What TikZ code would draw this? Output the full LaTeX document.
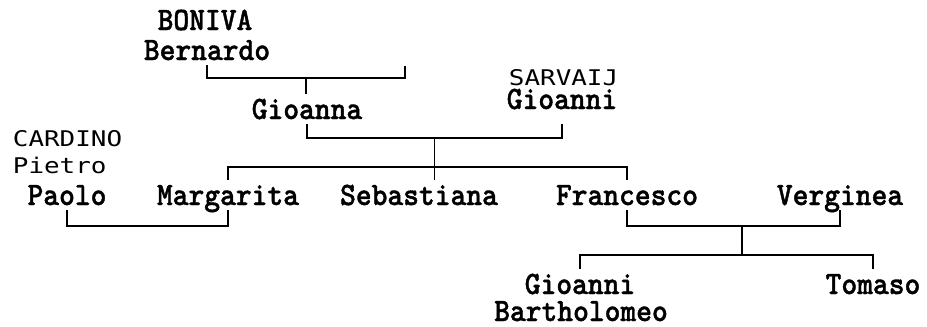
\documentclass[tikz,border=0pt]{standalone}
\usepackage{fontspec}
\newfontfamily\givenfont{lmmonolt10-bold}[Extension=.otf, FakeStretch=0.92, FakeBold=1.2]
\newfontfamily\surnamefont{DejaVu Sans Mono}[FakeStretch=1.2]

\tikzset{every picture/.style={line width=1.4pt}}
\tikzset{
  given/.style={inner sep=0pt, outer sep=4.5pt, text height=15pt, text depth=0pt,
    font=\givenfont\fontsize{24.5}{28}\selectfont},
  surname/.style={inner sep=0pt, text height=11.25pt, text depth=0pt,
    font=\surnamefont\fontsize{16.2}{18}\selectfont},
  link/.style={draw=black, line cap=rect}
}

\begin{document}
\begin{tikzpicture}[x=0.75pt,y=0.75pt,yscale=-1,xscale=1]
\useasboundingbox (0,0) rectangle (927,326);

% Text Node
\node[given] (boniva) at (205,20) {BONIVA};
% Text Node
\node[given] (bernardo) at (207,50) {Bernardo};
% Text Node
\node[given] (gioanna) at (307,109) {Gioanna};
% Text Node
\node[surname, anchor=west] (sarvaij) at (508,78) {SARVAIJ};
% Text Node
\node[given] (gioannis) at (562,99) {Gioanni};
% Text Node
\node[surname, anchor=west] (cardino) at (12,139) {CARDINO};
% Text Node
\node[surname, anchor=west] (pietro) at (12,166) {Pietro};
% Text Node
\node[given] (paolo) at (67,195) {Paolo};
% Text Node
\node[given] (margarita) at (228,195) {Margarita};
% Text Node
\node[given] (sebastiana) at (419,195) {Sebastiana};
% Text Node
\node[given] (francesco) at (627,195) {Francesco};
% Text Node
\node[given] (verginea) at (840,195) {Verginea};
% Text Node
\node[given] (gioannib) at (580,284) {Gioanni};
% Text Node
\node[given] (bartholomeo) at (581,311) {Bartholomeo};
% Text Node
\node[given] (tomaso) at (873,284) {Tomaso};

%unnamed spouse of Bernardo
\coordinate (bernardospouse) at (405,67);

%Straight Lines
\draw[link] (bernardo.south) -- ++(0,12) -| coordinate[pos=0.25] (m1) (bernardospouse);
\draw[link] (m1) -- (m1 |- gioanna.north);
%Straight Lines
\draw[link] (gioanna.south) -- ++(0,13) -| coordinate[pos=0.25] (m2) (gioannis.south |- gioanna.south);
\draw[link] (margarita.north) -- ++(0,-12) -| (francesco.north);
\draw[link] (m2) -- (m2 |- sebastiana.north);
%Straight Lines
\draw[link] (paolo.south) -- ++(0,15) -| (margarita.south);
%Straight Lines
\draw[link] (francesco.south) -- ++(0,15) -| coordinate[pos=0.27] (m4) (verginea.south);
\draw[link] (gioannib.north) -- ++(0,-13) coordinate (b5) -| (tomaso.north);
\draw[link] (m4) -- (m4 |- b5);

\end{tikzpicture}
\end{document}
